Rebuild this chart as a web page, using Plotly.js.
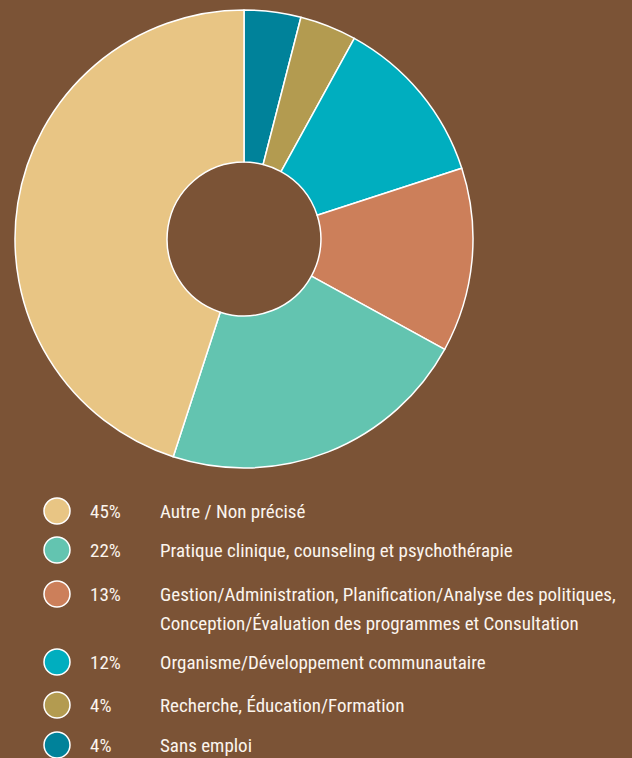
<!DOCTYPE html>
<html><head><meta charset="utf-8">
<script src="https://cdn.plot.ly/plotly-3.0.1.min.js"></script>
<style>html,body{margin:0;padding:0;background:#7b5336;}#c{width:632px;height:758px;}</style>
</head><body><div id="c"></div>
<script>
// Data (clockwise from 12 o'clock)
const categories = ["Sans emploi", "Recherche, Éducation/Formation", "Organisme/Développement communautaire",
  "Gestion/Administration, Planification/Analyse des politiques, Conception/Évaluation des programmes et Consultation",
  "Pratique clinique, counseling et psychothérapie", "Autre / Non précisé"];
const values = [4, 4, 12, 13, 22, 45];
const colors = ["#00829a", "#b39b50", "#00aebf", "#cc7f5a", "#63c4b0", "#e8c584"];

// Legend (display order)
const legendPct = ["45%", "22%", "13%", "12%", "4%", "4%"];
const legendText = ["Autre / Non précisé", "Pratique clinique, counseling et psychothérapie",
  "Gestion/Administration, Planification/Analyse des politiques,",
  "Organisme/Développement communautaire", "Recherche, Éducation/Formation", "Sans emploi"];
const legendText2 = ["", "", "Conception/Évaluation des programmes et Consultation", "", "", ""];
const legendColors = ["#e8c584", "#63c4b0", "#cc7f5a", "#00aebf", "#b39b50", "#00829a"];

const W = 632, H = 758;
const rowY = [511, 550, 594, 662, 705, 745];
const FONT = "Liberation Sans Narrow, Roboto Condensed, Arial Narrow, sans-serif";
const FS = 19;
const TXT = "#fbf5ee";

const shapes = [], annotations = [];
rowY.forEach((y, i) => {
  const r = 13, cx = 57;
  shapes.push({type: "circle", xref: "paper", yref: "paper",
    x0: (cx - r) / W, x1: (cx + r) / W, y0: 1 - (y + r) / H, y1: 1 - (y - r) / H,
    fillcolor: legendColors[i], line: {color: "#ffffff", width: 1.5}});
  annotations.push({xref: "paper", yref: "paper", x: 88 / W, y: 1 - y / H, xanchor: "left", yanchor: "middle",
    text: legendPct[i], showarrow: false, font: {family: FONT, size: FS, color: TXT}});
  annotations.push({xref: "paper", yref: "paper", x: 158 / W, y: 1 - y / H, xanchor: "left", yanchor: "middle",
    align: "left", text: legendText[i], showarrow: false, font: {family: FONT, size: FS, color: TXT}});
  if (legendText2[i]) {
    annotations.push({xref: "paper", yref: "paper", x: 158 / W, y: 1 - (y + 29) / H, xanchor: "left", yanchor: "middle",
      align: "left", text: legendText2[i], showarrow: false, font: {family: FONT, size: FS, color: TXT}});
  }
});

Plotly.newPlot("c", [{
  type: "pie", labels: categories, values: values, sort: false, direction: "clockwise", rotation: 0,
  hole: 0.336, textinfo: "none", hoverinfo: "label+percent",
  marker: {colors: colors, line: {color: "#ffffff", width: 1.5}},
  domain: {x: [15 / W, 473 / W], y: [1 - 468 / H, 1 - 10 / H]}
}], {
  width: W, height: H, margin: {l: 0, r: 0, t: 0, b: 0},
  paper_bgcolor: "#7b5336", plot_bgcolor: "#7b5336", showlegend: false,
  shapes: shapes, annotations: annotations
}, {displayModeBar: false, staticPlot: true});
</script></body></html>
